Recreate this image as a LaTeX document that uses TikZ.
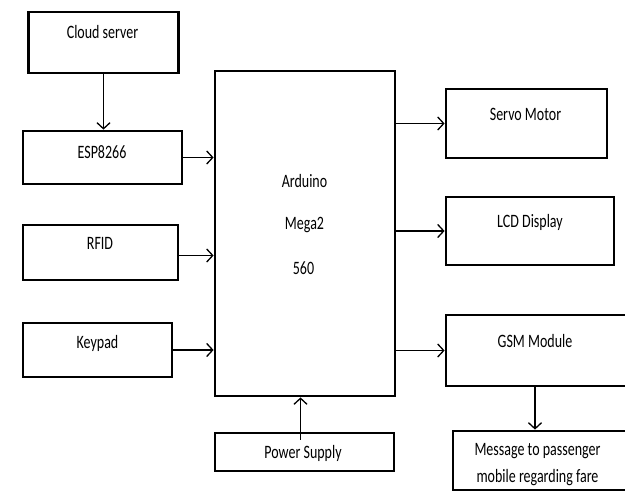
\documentclass[tikz,border=0pt]{standalone}
\usepackage{fontspec}
\setmainfont{Carlito}
\usepackage{graphicx}
\usetikzlibrary{arrows.meta,calc}
\newcommand{\tall}[1]{\scalebox{1}[1.35]{#1}}
\newcommand{\bx}[5]{\node[blk,minimum width=#4pt,minimum height=#5pt] (#1) at (#2,#3) {}; }
\newcommand{\lb}[4]{\node[txt] (#1) at (#2,#3) {#4}; }

\begin{document}
\begin{tikzpicture}[x=1pt,y=-1pt,->,>={Straight Barb[length=6pt,width=13pt]},line width=1.3pt,
  blk/.style={draw,rectangle,line width=2.8pt,inner sep=0pt},
  txt/.style={font=\fontsize{14}{27}\selectfont,align=center,inner sep=0pt}]
  \useasboundingbox (0,0) rectangle (625,493);
  \clip (0,0) rectangle (625,493);
  % blocks
  \bx{cloud}{103.5}{42.5}{150}{61}
  \bx{esp}{102.5}{157.5}{159}{53}
  \bx{rfid}{100.5}{252.5}{155}{55}
  \bx{keypad}{97.5}{350}{149}{54}
  \bx{ard}{305}{233.5}{180}{325}
  \bx{pwr}{304.5}{452}{179}{38}
  \bx{servo}{526.5}{123.5}{161}{69}
  \bx{lcd}{530}{231}{168}{68}
  \bx{gsm}{542.5}{350.5}{193}{71}
  \bx{msg}{546}{460.5}{186}{59}
  % texts
  \lb{cloudt}{102.5}{32}{\tall{Cloud server}}
  \lb{espt}{102}{152}{\tall{ESP8266}}
  \lb{rfidt}{100}{243}{\tall{RFID}}
  \lb{keypadt}{97.5}{343}{\tall{Keypad}}
  \lb{ardt1}{304.5}{181}{\tall{Arduino}}
  \lb{ardt2}{304.5}{225}{\tall{Mega2}}
  \lb{ardt3}{303.5}{268}{\tall{560}}
  \lb{pwrt}{303}{453}{\tall{Power Supply}}
  \lb{servot}{525.5}{114}{\tall{Servo Motor}}
  \lb{lcdt}{530}{222}{\tall{LCD Display}}
  \lb{gsmt}{535}{341}{\tall{GSM Module}}
  \lb{msgt}{537.5}{465}{\tall{Message to passenger}\\\tall{mobile regarding fare}}
  % links
  \draw (cloud.south) -- (cloud.south |- esp.north);
  \draw (esp.east) -- (esp.east -| ard.west);
  \draw ($(rfid.east)+(0,3)$) -- ($(rfid.east -| ard.west)+(0,3)$);
  \draw (keypad.east) -- (keypad.east -| ard.west);
  \draw ($(pwr.north)+(-4,8)$) -- ($(ard.south -| pwr.north)+(-4,0)$);
  \draw (ard.east |- servo.west) -- (servo.west);
  \draw (ard.east |- lcd.west) -- (lcd.west);
  \draw (ard.east |- gsm.west) -- (gsm.west);
  \draw (gsmt |- gsm.south) -- (gsmt |- msg.north);
\end{tikzpicture}
\end{document}
